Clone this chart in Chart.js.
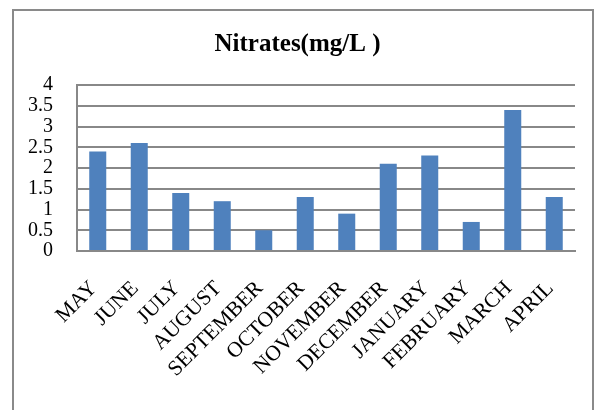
<!DOCTYPE html>
<html>
<head>
<meta charset="utf-8">
<script src="https://cdn.jsdelivr.net/npm/chart.js@4/dist/chart.umd.min.js"></script>
<style>
	html, body { margin: 0; padding: 0; background: #fff; }
	#wrap { position: relative; width: 599px; height: 410px; overflow: hidden; }
	#frame {
		position: absolute; left: 12px; top: 9px;
		width: 578px; height: 420px;
		border: 2px solid #8a8a8a;
	}
	#chart { position: absolute; left: 0; top: 0; }
</style>
</head>
<body>
<div id="wrap">
	<div id="frame"></div>
	<canvas id="chart" width="599" height="410"></canvas>
</div>
<script>
const months = ['MAY', 'JUNE', 'JULY', 'AUGUST', 'SEPTEMBER', 'OCTOBER',
	'NOVEMBER', 'DECEMBER', 'JANUARY', 'FEBRUARY', 'MARCH', 'APRIL'];
const nitrates = [2.4, 2.6, 1.4, 1.2, 0.5, 1.3, 0.9, 2.1, 2.3, 0.7, 3.4, 1.3];
const yMin = 0, yMax = 4, yStep = 0.5;

const serif = "'Liberation Serif', 'Times New Roman', serif";
const gridGray = '#888888';

new Chart(document.getElementById('chart'), {
	type: 'bar',
	data: {
		labels: months,
		datasets: [{
			label: 'Nitrates',
			data: nitrates,
			backgroundColor: '#4f81bd',
			borderWidth: 0,
			barPercentage: 0.41,
			categoryPercentage: 1
		}]
	},
	options: {
		animation: false,
		responsive: false,
		layout: { padding: { left: 20, right: 24, top: 0, bottom: 0 } },
		plugins: {
			legend: { display: false },
			tooltip: { enabled: false },
			title: {
				display: true,
				text: 'Nitrates(mg/L )',
				color: '#000',
				font: { family: serif, size: 25, weight: 'bold', lineHeight: 1.2 },
				padding: { top: 30, bottom: 25 }
			}
		},
		scales: {
			x: {
				grid: { display: false, drawTicks: false },
				border: { display: true, color: gridGray, width: 2 },
				ticks: {
					color: '#000',
					font: { family: serif, size: 21.5 },
					minRotation: 45,
					maxRotation: 45,
					autoSkip: false,
					padding: 25,
					labelOffset: -4
				},
				afterFit(scale) { scale.height = 159; }
			},
			y: {
				min: yMin,
				max: yMax,
				grid: { color: gridGray, lineWidth: 2, drawTicks: false },
				border: { display: true, color: gridGray, width: 2 },
				ticks: {
					stepSize: yStep,
					autoSkip: false,
					color: '#000',
					font: { family: serif, size: 20 },
					padding: 24,
					callback: v => String(v)
				},
				afterFit(scale) { scale.width = 57; }
			}
		}
	}
});
</script>
</body>
</html>
